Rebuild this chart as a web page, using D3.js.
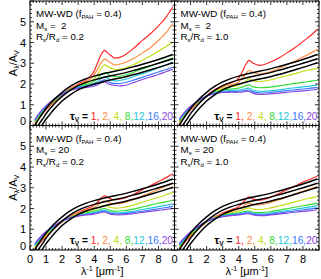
<!DOCTYPE html>
<html><head><meta charset="utf-8">
<script src="https://cdn.jsdelivr.net/npm/d3@7/dist/d3.min.js"></script>
<style>body{margin:0;background:#fff}svg{display:block}text{font-family:"Liberation Sans",Arial,sans-serif}</style>
</head><body><svg id="c" width="321" height="279"></svg>
<script>
// ---- data ----
const lam = [0.3,0.6,1,1.5,2,2.5,3,3.5,3.9,4.2,4.45,4.65,4.9,5.3,5.8,6.5,7,7.5,8,8.5,8.9];
const tauV = ["1","2","4","8","12","16","20"];
const msValues = ["2","2","20","20"];
const ratioValues = ["0.2","1.0","0.2","1.0"];
const xTicks = [0,1,2,3,4,5,6,7,8];
const yTicks = [0,1,2,3,4,5];

const TL = [
 [0.10,0.40,0.75,1.15,1.50,1.78,2.00,2.20,2.50,3.00,3.45,3.62,3.45,3.25,3.35,3.75,4.10,4.42,4.80,5.25,5.72],
 [0.13,0.44,0.79,1.17,1.50,1.76,1.96,2.12,2.35,2.70,3.05,3.20,3.08,2.92,3.00,3.25,3.50,3.75,4.10,4.50,4.93],
 [0.16,0.48,0.83,1.20,1.51,1.74,1.92,2.05,2.20,2.45,2.78,2.92,2.82,2.70,2.75,2.95,3.15,3.35,3.58,3.82,4.02],
 [0.20,0.52,0.87,1.22,1.51,1.72,1.88,1.98,2.08,2.25,2.45,2.55,2.45,2.35,2.40,2.58,2.72,2.86,3.00,3.15,3.27],
 [0.23,0.56,0.90,1.24,1.52,1.71,1.85,1.93,2.00,2.12,2.28,2.35,2.25,2.15,2.20,2.36,2.50,2.63,2.78,2.93,3.06],
 [0.26,0.59,0.93,1.26,1.52,1.70,1.82,1.88,1.93,2.02,2.15,2.20,2.10,2.02,2.05,2.20,2.32,2.45,2.58,2.70,2.82],
 [0.29,0.62,0.96,1.28,1.53,1.69,1.79,1.84,1.88,1.95,2.06,2.10,2.00,1.93,1.92,2.08,2.22,2.34,2.46,2.60,2.71]
];
const TR = [
 [0.10,0.40,0.75,1.13,1.45,1.72,1.92,2.05,2.20,2.55,2.95,3.14,3.00,2.90,3.00,3.25,3.50,3.75,4.05,4.35,4.64],
 [0.14,0.44,0.78,1.14,1.44,1.68,1.85,1.96,2.05,2.25,2.50,2.66,2.55,2.48,2.55,2.75,2.92,3.10,3.30,3.50,3.68],
 [0.18,0.48,0.82,1.15,1.43,1.64,1.78,1.86,1.92,2.02,2.15,2.24,2.15,2.12,2.17,2.30,2.40,2.50,2.60,2.69,2.76],
 [0.22,0.52,0.86,1.17,1.42,1.60,1.71,1.76,1.79,1.84,1.92,1.96,1.86,1.82,1.84,1.91,1.97,2.03,2.08,2.14,2.18],
 [0.26,0.56,0.89,1.19,1.42,1.57,1.66,1.69,1.70,1.73,1.78,1.80,1.70,1.65,1.66,1.72,1.77,1.82,1.86,1.91,1.94],
 [0.29,0.59,0.91,1.20,1.42,1.55,1.62,1.64,1.64,1.66,1.70,1.71,1.62,1.57,1.58,1.64,1.68,1.72,1.76,1.80,1.84],
 [0.32,0.62,0.93,1.21,1.42,1.53,1.59,1.60,1.60,1.61,1.64,1.64,1.55,1.50,1.51,1.56,1.60,1.64,1.67,1.71,1.74]
];
const BL = [
 [0.05,0.32,0.66,1.03,1.35,1.62,1.82,1.98,2.12,2.30,2.52,2.61,2.50,2.42,2.48,2.70,2.90,3.10,3.30,3.50,3.68],
 [0.09,0.37,0.70,1.05,1.36,1.60,1.78,1.92,2.02,2.15,2.30,2.36,2.28,2.22,2.27,2.45,2.60,2.76,2.92,3.08,3.22],
 [0.14,0.42,0.75,1.08,1.37,1.58,1.74,1.85,1.93,2.02,2.12,2.15,2.07,2.02,2.05,2.18,2.30,2.42,2.54,2.66,2.78],
 [0.19,0.47,0.79,1.11,1.38,1.57,1.70,1.79,1.85,1.91,1.98,2.00,1.92,1.87,1.89,1.98,2.07,2.16,2.25,2.33,2.40],
 [0.23,0.52,0.83,1.13,1.39,1.56,1.67,1.74,1.79,1.84,1.90,1.92,1.84,1.79,1.80,1.88,1.95,2.02,2.09,2.16,2.22],
 [0.27,0.56,0.86,1.15,1.40,1.55,1.65,1.71,1.75,1.80,1.85,1.87,1.79,1.74,1.75,1.81,1.87,1.93,1.99,2.05,2.10],
 [0.30,0.59,0.89,1.17,1.40,1.54,1.63,1.69,1.72,1.76,1.81,1.83,1.75,1.70,1.70,1.76,1.81,1.86,1.91,1.96,2.00]
];
const BR = [
 [0.05,0.32,0.66,1.02,1.33,1.58,1.78,1.93,2.05,2.22,2.45,2.56,2.45,2.40,2.48,2.72,2.90,3.08,3.27,3.42,3.55],
 [0.10,0.37,0.70,1.04,1.34,1.56,1.73,1.86,1.95,2.06,2.20,2.25,2.20,2.18,2.25,2.42,2.56,2.70,2.84,2.96,3.06],
 [0.15,0.42,0.74,1.07,1.35,1.55,1.69,1.79,1.85,1.92,2.00,2.03,1.97,1.95,2.00,2.12,2.22,2.32,2.42,2.51,2.58],
 [0.20,0.47,0.78,1.10,1.36,1.54,1.66,1.74,1.78,1.82,1.87,1.88,1.82,1.80,1.83,1.92,1.99,2.06,2.13,2.20,2.26],
 [0.24,0.51,0.82,1.12,1.37,1.53,1.64,1.71,1.74,1.78,1.82,1.83,1.77,1.74,1.76,1.84,1.90,1.96,2.02,2.08,2.14],
 [0.28,0.55,0.85,1.14,1.38,1.52,1.62,1.68,1.71,1.74,1.78,1.79,1.73,1.70,1.71,1.78,1.83,1.88,1.93,1.98,2.03],
 [0.31,0.58,0.88,1.16,1.38,1.52,1.60,1.66,1.68,1.71,1.74,1.75,1.69,1.66,1.67,1.73,1.78,1.82,1.86,1.90,1.94]
];
// black reference curves (same in every panel)
const blackX1 = [0.25,0.6,1,1.5,2,2.5,3,3.5,4,4.5,5,5.7,6.5,7,8,8.9];
const blackY1 = [-0.05,0.38,0.82,1.25,1.6,1.88,2.1,2.26,2.38,2.48,2.57,2.68,2.84,2.95,3.18,3.42];
const blackX2 = [0.45,0.8,1,1.5,2,2.5,3,3.5,4,4.5,5,5.7,6.5,7,8,8.9];
const blackY2 = [-0.05,0.33,0.57,1.04,1.4,1.69,1.92,2.08,2.2,2.3,2.39,2.5,2.66,2.77,3.0,3.22];
const blackX3 = [0.7,0.9,1.2,1.5,2,2.5,3,3.5,4,4.5,5,5.7,6.5,7,8,8.9];
const blackY3 = [-0.05,0.2,0.5,0.78,1.18,1.48,1.72,1.88,2.0,2.1,2.19,2.3,2.46,2.57,2.8,3.02];

// ---- styles/layout ----
const colors = ["#ff2626","#ff8a3a","#c4dc10","#30dc30","#20c8dc","#3a78ff","#8a46e0"];
const panelData = [TL,TR,BL,BR];
const W = 144.5, H = 124.5, X0 = 30, Y0 = 1;
const svg = d3.select("#c");
const x = d3.scaleLinear().domain([0,9]).range([0,W]);
const y = d3.scaleLinear().domain([0,6]).range([H,0]);
const line = d3.line().x(d=>x(d[0])).y(d=>y(d[1])).curve(d3.curveCatmullRom.alpha(0.5));

panelData.forEach((pd,i)=>{
  const col = i%2, row = Math.floor(i/2);
  const px = X0 + col*W, py = Y0 + row*H;
  const g = svg.append("g").attr("transform",`translate(${px},${py})`);
  const cid = "clip"+i;
  g.append("clipPath").attr("id",cid).append("rect").attr("width",W).attr("height",H);
  const pg = g.append("g").attr("clip-path",`url(#${cid})`);
  pd.forEach((ser,k)=>{
    pg.append("path").attr("d",line(lam.map((l,j)=>[l,ser[j]])))
      .attr("fill","none").attr("stroke",colors[k]).attr("stroke-width",1.15);
  });
  [[blackX1,blackY1],[blackX2,blackY2],[blackX3,blackY3]].forEach(([bx,by])=>{
    pg.append("path").attr("d",line(bx.map((v,j)=>[v,by[j]])))
      .attr("fill","none").attr("stroke","#000").attr("stroke-width",1.5);
  });
  // frame
  g.append("rect").attr("width",W).attr("height",H).attr("fill","none").attr("stroke","#000").attr("stroke-width",1);
  // ticks
  const tk = g.append("g").attr("stroke","#000").attr("stroke-width",0.8);
  d3.range(0,9.001,0.2).forEach(v=>{
    const major = Math.abs(v-Math.round(v))<1e-6;
    const L = major?4:2;
    tk.append("line").attr("x1",x(v)).attr("x2",x(v)).attr("y1",H).attr("y2",H-L);
    tk.append("line").attr("x1",x(v)).attr("x2",x(v)).attr("y1",0).attr("y2",L);
  });
  d3.range(0,6.001,0.2).forEach(v=>{
    const major = Math.abs(v-Math.round(v))<1e-6;
    const L = major?4:2;
    tk.append("line").attr("y1",y(v)).attr("y2",y(v)).attr("x1",0).attr("x2",L);
    tk.append("line").attr("y1",y(v)).attr("y2",y(v)).attr("x1",W).attr("x2",W-L);
  });
  // tick labels
  if(col===0){
    yTicks.forEach(t=>{
      g.append("text").attr("x",-4).attr("y",y(t)+ (t===0?-0.5:4)).attr("text-anchor","end")
        .attr("font-size",11).text(t);
    });
  }
  if(row===1){
    xTicks.forEach(t=>{
      g.append("text").attr("x",x(t)).attr("y",H+13).attr("text-anchor","middle")
        .attr("font-size",11).text(t);
    });
  }
  // annotation
  const ann = g.append("g").attr("font-size",9.8);
  const t1 = ann.append("text").attr("x",6).attr("y",16);
  t1.append("tspan").text("MW-WD (f");
  t1.append("tspan").attr("font-size",6).attr("dy",2).text("PAH");
  t1.append("tspan").attr("dy",-2).text(" = 0.4)");
  const t2 = ann.append("text").attr("x",6).attr("y",27.5).attr("xml:space","preserve");
  t2.append("tspan").text("M");
  t2.append("tspan").attr("font-size",6).attr("dy",2).text("s");
  t2.append("tspan").attr("dy",-2).text(msValues[i].length===1? " =  "+msValues[i] : " = "+msValues[i]);
  const t3 = ann.append("text").attr("x",6).attr("y",39);
  t3.append("tspan").text("R");
  t3.append("tspan").attr("font-size",6).attr("dy",2).text("s");
  t3.append("tspan").attr("dy",-2).text("/R");
  t3.append("tspan").attr("font-size",6).attr("dy",2).text("d");
  t3.append("tspan").attr("dy",-2).text(" = "+ratioValues[i]);
  // legend
  const lg = g.append("text").attr("x",W-1.5).attr("y",H-6).attr("text-anchor","end").attr("font-size",10.2);
  lg.append("tspan").attr("font-weight","bold").attr("font-size",11.5).text("τ");
  lg.append("tspan").attr("font-weight","bold").attr("font-size",6.5).attr("dy",2).text("V");
  lg.append("tspan").attr("font-weight","bold").attr("dy",-2).text(" = ");
  tauV.forEach((t,k)=>{
    const sep = k<tauV.length-1 ? "," : "";
    const pre = (k>0 && k<4) ? " " : "";
    lg.append("tspan").attr("fill",colors[k]).text(pre+t+sep);
  });
  // axis titles
  if(col===0){
    const yt = svg.append("text").attr("transform",`translate(17,${py+H/2}) rotate(-90)`)
      .attr("text-anchor","middle").attr("font-size",11);
    yt.append("tspan").text("A");
    yt.append("tspan").attr("font-size",7).attr("dy",2).text("λ");
    yt.append("tspan").attr("dy",-2).text("/A");
    yt.append("tspan").attr("font-size",7).attr("dy",2).text("V");
  }
  if(row===1){
    const xt = svg.append("text").attr("x",px+W/2).attr("y",275).attr("text-anchor","middle").attr("font-size",11);
    xt.append("tspan").text("λ");
    xt.append("tspan").attr("font-size",7).attr("dy",-4).text("-1");
    xt.append("tspan").attr("dy",4).text(" [μm");
    xt.append("tspan").attr("font-size",7).attr("dy",-4).text("-1");
    xt.append("tspan").attr("dy",4).text("]");
  }
});
</script></body></html>
